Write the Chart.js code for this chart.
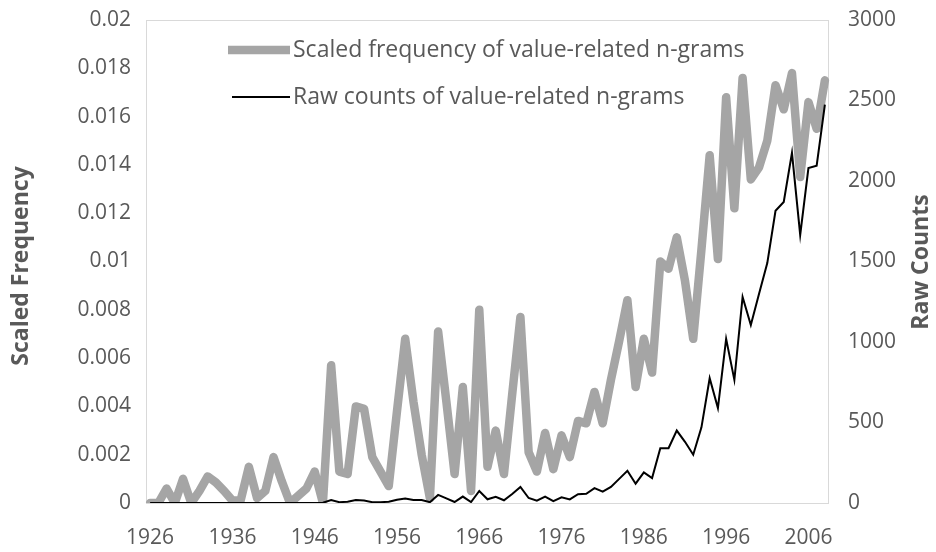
<!DOCTYPE html>
<html>
<head>
<meta charset="utf-8">
<script src="https://cdn.jsdelivr.net/npm/chart.js@4"></script>
<style>
  html, body { margin: 0; padding: 0; background: #fff; }
  #wrap { width: 936px; height: 552px; }
</style>
</head>
<body>
<div id="wrap"><canvas id="chart" width="936" height="552"></canvas></div>
<script>
// years 1926..2008
const years = [
  1926,1927,1928,1929,1930,1931,1932,1933,1934,1935,1936,1937,1938,1939,1940,1941,1942,1943,1944,1945,
  1946,1947,1948,1949,1950,1951,1952,1953,1954,1955,1956,1957,1958,1959,1960,1961,1962,1963,1964,1965,
  1966,1967,1968,1969,1970,1971,1972,1973,1974,1975,1976,1977,1978,1979,1980,1981,1982,1983,1984,1985,
  1986,1987,1988,1989,1990,1991,1992,1993,1994,1995,1996,1997,1998,1999,2000,2001,2002,2003,2004,2005,
  2006,2007,2008
];

// scaled frequency (left axis)
const scaledFreq = [
  0.0000,0.0000,0.0006,0.0000,0.0010,0.0000,0.0005,0.0011,0.00085,0.0005,0.0001,0.0001,0.0015,0.0002,0.0005,0.0019,0.0009,0.0000,0.0003,0.0006,
  0.0013,0.0000,0.0057,0.0013,0.0012,0.0040,0.0039,0.0019,0.0013,0.0007,0.0038,0.0068,0.0042,0.0020,0.0002,0.0071,0.0042,0.0012,0.0048,0.0005,
  0.0080,0.0015,0.0030,0.0012,0.0045,0.0077,0.0021,0.0013,0.0029,0.0014,0.0028,0.0019,0.0034,0.0033,0.0046,0.0033,0.0051,0.0067,0.0084,0.0048,
  0.0068,0.0054,0.0100,0.0097,0.0110,0.0092,0.0068,0.0105,0.0144,0.0101,0.0168,0.0122,0.0176,0.0134,0.0139,0.0150,0.0173,0.0163,0.0178,0.0135,
  0.0166,0.0155,0.0175
];

// raw counts (right axis)
const rawCounts = [
  0,0,0,0,0,0,0,0,0,0,0,0,0,0,0,0,0,0,0,0,
  0,2,18,5,8,18,15,5,5,8,20,28,18,18,5,50,29,6,40,6,
  75,23,39,17,56,100,31,14,40,12,35,22,55,57,92,70,100,150,200,120,
  190,155,340,340,450,380,300,470,775,590,1020,765,1280,1105,1300,1490,1815,1870,2175,1665,
  2080,2095,2475
];

const seriesNames = ['Scaled frequency of value-related n-grams', 'Raw counts of value-related n-grams'];
const axisTitles = ['Scaled Frequency', 'Raw Counts'];

const txtColor = '#595959';
const fontFam = '"Open Sans", sans-serif';

const decor = {
  id: 'decor',
  beforeDatasetsDraw(chart) {
    const { ctx, chartArea: a } = chart;
    ctx.save();
    ctx.strokeStyle = '#D9D9D9';
    ctx.lineWidth = 1;
    ctx.strokeRect(a.left + 0.5, a.top + 0.5, a.right - a.left - 1, a.bottom - a.top);
    ctx.restore();
  },
  afterDraw(chart) {
    const { ctx } = chart;
    ctx.save();
    // legend
    ctx.font = '23px ' + fontFam;
    ctx.fillStyle = txtColor;
    ctx.textBaseline = 'middle';
    ctx.textAlign = 'left';
    ctx.lineCap = 'butt';
    ctx.strokeStyle = '#A5A5A5';
    ctx.lineWidth = 8.5;
    ctx.beginPath(); ctx.moveTo(228, 50); ctx.lineTo(290, 50); ctx.stroke();
    ctx.fillText(seriesNames[0], 293, 50);
    ctx.strokeStyle = '#000';
    ctx.lineWidth = 2;
    ctx.beginPath(); ctx.moveTo(232, 97); ctx.lineTo(290, 97); ctx.stroke();
    ctx.fillText(seriesNames[1], 293, 97);

    // axis titles
    ctx.font = 'bold 23px ' + fontFam;
    ctx.textAlign = 'center';
    ctx.translate(21, 266);
    ctx.rotate(-Math.PI / 2);
    ctx.fillText(axisTitles[0], 0, 0);
    ctx.setTransform(1, 0, 0, 1, 0, 0);
    ctx.translate(921, 262);
    ctx.rotate(-Math.PI / 2);
    ctx.fillText(axisTitles[1], 0, 0);
    ctx.restore();
  }
};

// fixed scale sizes so the plot area lands where the original had it
function fixY(width) {
  return function (s) {
    s.width = width;
    s.paddingTop = 0;
    s.paddingBottom = 0;
  };
}

new Chart(document.getElementById('chart'), {
  type: 'line',
  data: {
    labels: years.map(String),
    datasets: [
      {
        label: seriesNames[1],
        data: rawCounts,
        yAxisID: 'yR',
        borderColor: '#000000',
        borderWidth: 2,
        pointRadius: 0,
        tension: 0,
        order: 1
      },
      {
        label: seriesNames[0],
        data: scaledFreq,
        yAxisID: 'yL',
        borderColor: '#A5A5A5',
        borderWidth: 8.5,
        borderJoinStyle: 'round',
        borderCapStyle: 'round',
        pointRadius: 0,
        tension: 0,
        order: 2
      }
    ]
  },
  options: {
    responsive: false,
    animation: false,
    layout: { padding: { top: 20, left: 0, right: 0, bottom: 0 } },
    plugins: { legend: { display: false }, tooltip: { enabled: false } },
    scales: {
      x: {
        offset: true,
        grid: { display: false, drawTicks: false },
        border: { display: false },
        afterFit(s) { s.height = 49; s.paddingLeft = 0; s.paddingRight = 0; },
        ticks: {
          autoSkip: false,
          maxRotation: 0,
          padding: 22,
          color: txtColor,
          font: { family: fontFam, size: 21 },
          callback(v, i) { return (years[i] - 1926) % 10 === 0 ? String(years[i]) : ''; }
        }
      },
      yL: {
        position: 'left',
        min: 0, max: 0.02,
        grid: { display: false, drawTicks: false },
        border: { display: false },
        afterFit: fixY(146),
        ticks: {
          stepSize: 0.002,
          padding: 15,
          color: txtColor,
          font: { family: fontFam, size: 21 },
          callback(v) { return String(Number(v.toFixed(3))); }
        }
      },
      yR: {
        position: 'right',
        min: 0, max: 3000,
        grid: { display: false, drawTicks: false },
        border: { display: false },
        afterFit: fixY(107),
        ticks: {
          stepSize: 500,
          padding: 19,
          color: txtColor,
          font: { family: fontFam, size: 21 },
          callback(v) { return String(v); }
        }
      }
    }
  },
  plugins: [decor]
});
</script>
</body>
</html>
